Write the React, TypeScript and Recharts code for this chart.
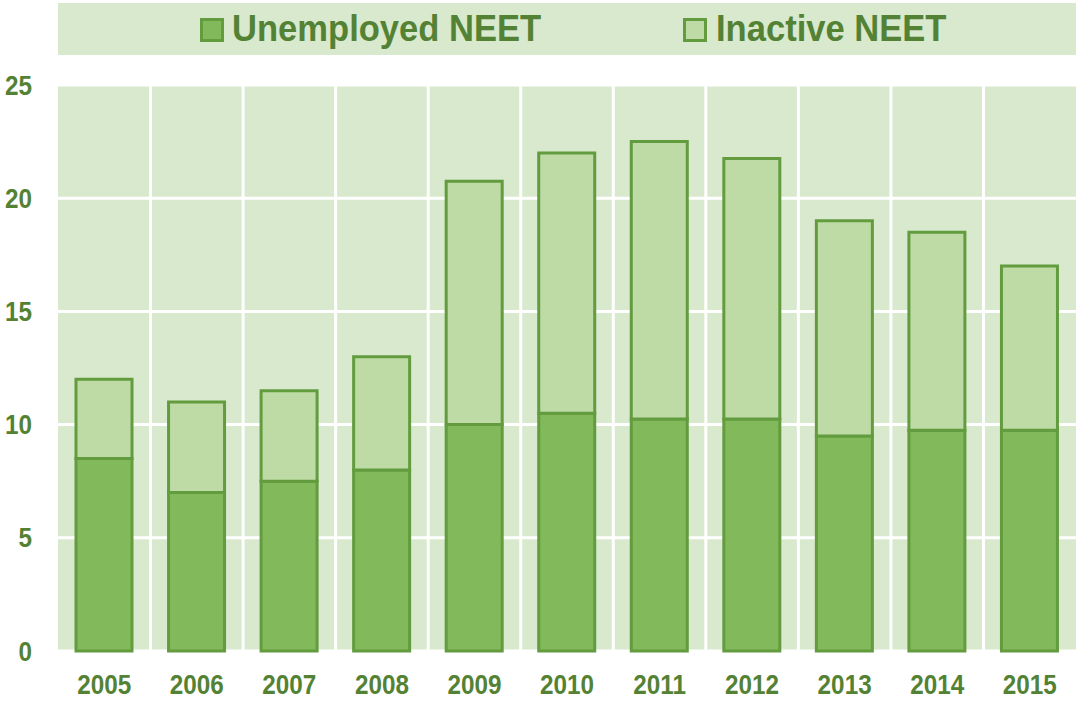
import React from "react";
import { BarChart, Bar, XAxis, YAxis, CartesianGrid } from "recharts";

const years = ["2005", "2006", "2007", "2008", "2009", "2010", "2011", "2012", "2013", "2014", "2015"];
const unemployed = [8.5, 7, 7.5, 8, 10, 10.5, 10.25, 10.25, 9.5, 9.75, 9.75];
const inactive = [3.5, 4, 4, 5, 10.75, 11.5, 12.25, 11.5, 9.5, 8.75, 7.25];
const yTicks = [0, 5, 10, 15, 20, 25];

const TEXT = "#548235";
const BG = "#D8E9CE";
const UNEMP = "#82B95A";
const INACT = "#BEDBA6";
const EDGE = "#629C3F";
const FONT = "'Liberation Sans', Arial, sans-serif";

const data = years.map((year, i) => ({
  year,
  unemployed: unemployed[i],
  inactive: inactive[i],
}));

// narrow bold tick text (Arial Narrow look)
function NarrowTick({ x, y, payload, anchor, dy }: any) {
  return (
    <g transform={`translate(${x},${y})`}>
      <text
        transform="scale(0.9,1)"
        textAnchor={anchor}
        dy={dy}
        fill={TEXT}
        fontSize={27}
        fontWeight={700}
        fontFamily={FONT}
      >
        {payload.value}
      </text>
    </g>
  );
}

function LegendItem({ color, label, left, textLeft }: { color: string; label: string; left: number; textLeft: number }) {
  return (
    <>
      <div
        style={{
          position: "absolute",
          left,
          top: 18,
          width: 18,
          height: 18,
          background: color,
          border: `3px solid ${EDGE}`,
        }}
      />
      <span
        style={{
          position: "absolute",
          left: textLeft,
          top: 7,
          fontSize: 36,
          lineHeight: "44px",
          fontWeight: 700,
          color: TEXT,
          fontFamily: FONT,
          transform: "scaleX(0.96)",
          transformOrigin: "left center",
          whiteSpace: "nowrap",
        }}
      >
        {label}
      </span>
    </>
  );
}

export default function App() {
  React.useEffect(() => {
    document.body.style.margin = "0";
  }, []);

  return (
    <div style={{ position: "relative", width: 1077, height: 702, background: "#fff" }}>
      <div
        style={{
          position: "absolute",
          left: 58,
          top: 3,
          width: 1018,
          height: 52,
          background: BG,
        }}
      />
      <LegendItem color={UNEMP} label="Unemployed NEET" left={200} textLeft={232} />
      <LegendItem color={INACT} label="Inactive NEET" left={683} textLeft={716} />
      <BarChart
        width={1077}
        height={702}
        data={data}
        margin={{ top: 85, right: 1, bottom: 0, left: 0 }}
        barSize={56}
      >
        <CartesianGrid
          fill={BG}
          stroke="#ffffff"
          strokeWidth={3}
          verticalCoordinatesGenerator={({ offset }: any) =>
            years.slice(1).map((_, i) => offset.left + (offset.width * (i + 1)) / years.length)
          }
        />
        <XAxis
          dataKey="year"
          axisLine={false}
          tickLine={false}
          height={51}
          tickMargin={18}
          tick={<NarrowTick anchor="middle" dy="0.71em" />}
        />
        <YAxis
          domain={[0, 25]}
          ticks={yTicks}
          width={58}
          axisLine={false}
          tickLine={false}
          tickMargin={20}
          tick={<NarrowTick anchor="end" dy="0.355em" />}
        />
        <Bar dataKey="unemployed" stackId="a" fill={UNEMP} stroke={EDGE} strokeWidth={3} isAnimationActive={false} />
        <Bar dataKey="inactive" stackId="a" fill={INACT} stroke={EDGE} strokeWidth={3} isAnimationActive={false} />
      </BarChart>
    </div>
  );
}
